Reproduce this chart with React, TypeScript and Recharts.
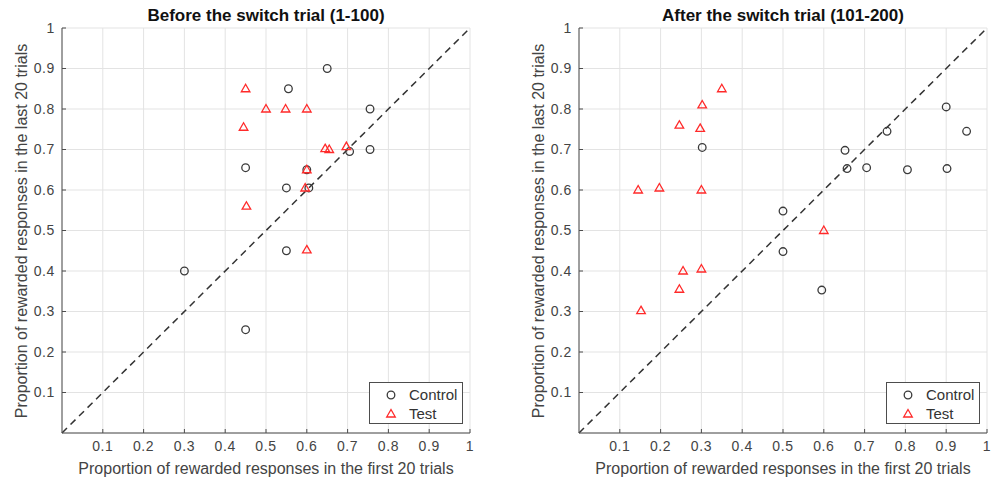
import { ScatterChart, Scatter, XAxis, YAxis, CartesianGrid, ReferenceLine } from "recharts";

type Pt = { x: number; y: number };

// tick positions shared by both panels
const axisTicks = [0.1, 0.2, 0.3, 0.4, 0.5, 0.6, 0.7, 0.8, 0.9, 1];

const beforeTitle = "Before the switch trial (1-100)";
const afterTitle = "After the switch trial (101-200)";
const xLabel = "Proportion of rewarded responses in the first 20 trials";
const yLabel = "Proportion of rewarded responses in the last 20 trials";

const beforeControl: Pt[] = [
  { x: 0.3, y: 0.4 },
  { x: 0.45, y: 0.255 },
  { x: 0.45, y: 0.655 },
  { x: 0.55, y: 0.605 },
  { x: 0.555, y: 0.85 },
  { x: 0.55, y: 0.45 },
  { x: 0.6, y: 0.65 },
  { x: 0.605, y: 0.605 },
  { x: 0.65, y: 0.9 },
  { x: 0.705, y: 0.695 },
  { x: 0.755, y: 0.8 },
  { x: 0.755, y: 0.7 },
];

const beforeTest: Pt[] = [
  { x: 0.45, y: 0.85 },
  { x: 0.445, y: 0.755 },
  { x: 0.5, y: 0.8 },
  { x: 0.548, y: 0.8 },
  { x: 0.6, y: 0.8 },
  { x: 0.452, y: 0.56 },
  { x: 0.6, y: 0.65 },
  { x: 0.596, y: 0.605 },
  { x: 0.6, y: 0.452 },
  { x: 0.645, y: 0.702 },
  { x: 0.655, y: 0.7 },
  { x: 0.697, y: 0.707 },
];

const afterControl: Pt[] = [
  { x: 0.302, y: 0.705 },
  { x: 0.5, y: 0.548 },
  { x: 0.5, y: 0.448 },
  { x: 0.595, y: 0.353 },
  { x: 0.652, y: 0.698 },
  { x: 0.657, y: 0.653 },
  { x: 0.705, y: 0.655 },
  { x: 0.755, y: 0.745 },
  { x: 0.805, y: 0.65 },
  { x: 0.9, y: 0.805 },
  { x: 0.902, y: 0.653 },
  { x: 0.95, y: 0.745 },
];

const afterTest: Pt[] = [
  { x: 0.35, y: 0.85 },
  { x: 0.302, y: 0.81 },
  { x: 0.246, y: 0.76 },
  { x: 0.297, y: 0.752 },
  { x: 0.145, y: 0.6 },
  { x: 0.197, y: 0.605 },
  { x: 0.3, y: 0.6 },
  { x: 0.255, y: 0.4 },
  { x: 0.3, y: 0.405 },
  { x: 0.246, y: 0.355 },
  { x: 0.152, y: 0.302 },
  { x: 0.6, y: 0.5 },
];

const FONT = "'Liberation Sans', Arial, sans-serif";
const AXIS = "#4d4d4d";
const RED = "#ff2a2a";

const fmt = (v: number) => (v === 1 ? "1" : v.toFixed(1));

const tickStyle = { fill: "#444", fontSize: 14, fontFamily: FONT, letterSpacing: 0.6 };

const circleShape = (p: any) => (
  <circle cx={p.cx} cy={p.cy} r={3.8} fill="none" stroke="#3a3a3a" strokeWidth={1.3} />
);

const triShape = (p: any) => (
  <path
    d={`M${p.cx},${p.cy - 4.5} L${p.cx + 4.3},${p.cy + 3} L${p.cx - 4.3},${p.cy + 3} Z`}
    fill="none"
    stroke={RED}
    strokeWidth={1.3}
  />
);

function Panel({ left, plotLeft, title, control, test }: { left: number; plotLeft: number; title: string; control: Pt[]; test: Pt[] }) {
  const W = 500;
  const H = 481;
  const plotW = 408;
  const top = 28;
  const plotH = 405;
  const yAxisW = 40;
  const xAxisH = 30;
  const cx = plotLeft + plotW / 2;
  return (
    <div style={{ position: "absolute", left, top: 0, width: W, height: H, fontFamily: FONT }}>
      <ScatterChart
        width={W}
        height={H}
        margin={{ top, left: plotLeft - yAxisW, right: W - plotLeft - plotW, bottom: H - top - plotH - xAxisH }}
      >
        <CartesianGrid stroke="#e3e3e3" strokeWidth={1} />
        <XAxis
          type="number"
          dataKey="x"
          domain={[0, 1]}
          ticks={axisTicks}
          tickFormatter={fmt}
          height={xAxisH}
          tickSize={-4}
          tickMargin={12}
          stroke={AXIS}
          tick={tickStyle}
          interval={0}
          allowDataOverflow
        />
        <XAxis
          xAxisId="top"
          orientation="top"
          type="number"
          domain={[0, 1]}
          ticks={axisTicks}
          height={0}
          tickSize={-4}
          stroke={AXIS}
          tick={() => <g />}
        />
        <YAxis
          type="number"
          dataKey="y"
          domain={[0, 1]}
          ticks={axisTicks}
          tickFormatter={fmt}
          width={yAxisW}
          tickSize={-4}
          tickMargin={11}
          stroke={AXIS}
          tick={tickStyle}
          interval={0}
          allowDataOverflow
        />
        <YAxis
          yAxisId="right"
          orientation="right"
          type="number"
          domain={[0, 1]}
          ticks={axisTicks}
          width={0}
          tickSize={-4}
          stroke={AXIS}
          tick={() => <g />}
        />
        <ReferenceLine
          segment={[
            { x: 0, y: 0 },
            { x: 1, y: 1 },
          ]}
          stroke="#333"
          strokeWidth={1.5}
          strokeDasharray="7 5"
        />
        <Scatter data={control} shape={circleShape} isAnimationActive={false} />
        <Scatter data={test} shape={triShape} isAnimationActive={false} />
      </ScatterChart>
      <div
        style={{
          position: "absolute",
          left: cx - 200,
          width: 400,
          top: 6,
          textAlign: "center",
          fontWeight: "bold",
          fontSize: 17,
          color: "#111",
        }}
      >
        {title}
      </div>
      <div
        style={{
          position: "absolute",
          left: cx - 250,
          width: 500,
          top: 460,
          textAlign: "center",
          fontSize: 16,
          color: "#444",
        }}
      >
        {xLabel}
      </div>
      <div
        style={{
          position: "absolute",
          left: plotLeft - 40 - 250,
          top: top + plotH / 2 - 10,
          width: 500,
          height: 20,
          lineHeight: "20px",
          textAlign: "center",
          fontSize: 16,
          color: "#444",
          transform: "rotate(-90deg)",
          transformOrigin: "50% 50%",
        }}
      >
        {yLabel}
      </div>
      <div
        style={{
          position: "absolute",
          left: plotLeft + plotW - 101,
          top: top + plotH - 51,
          width: 94,
          height: 42,
          border: `1px solid ${AXIS}`,
          background: "#fff",
          fontSize: 15,
          color: "#333",
          boxSizing: "border-box",
        }}
      >
        <div style={{ position: "absolute", left: 15, top: 2, display: "flex", alignItems: "center", height: 19 }}>
          <svg width={12} height={12} style={{ marginRight: 12 }}>
            <circle cx={6} cy={6} r={3.8} fill="none" stroke="#3a3a3a" strokeWidth={1.3} />
          </svg>
          Control
        </div>
        <div style={{ position: "absolute", left: 15, top: 21, display: "flex", alignItems: "center", height: 19 }}>
          <svg width={12} height={12} style={{ marginRight: 12 }}>
            <path d="M6,1.5 L10.3,9 L1.7,9 Z" fill="none" stroke={RED} strokeWidth={1.3} />
          </svg>
          Test
        </div>
      </div>
    </div>
  );
}

export default function App() {
  return (
    <div style={{ position: "absolute", left: 0, top: 0, width: 997, height: 481, background: "#fff" }}>
      <Panel left={0} plotLeft={62} title={beforeTitle} control={beforeControl} test={beforeTest} />
      <Panel left={500} plotLeft={79} title={afterTitle} control={afterControl} test={afterTest} />
    </div>
  );
}
